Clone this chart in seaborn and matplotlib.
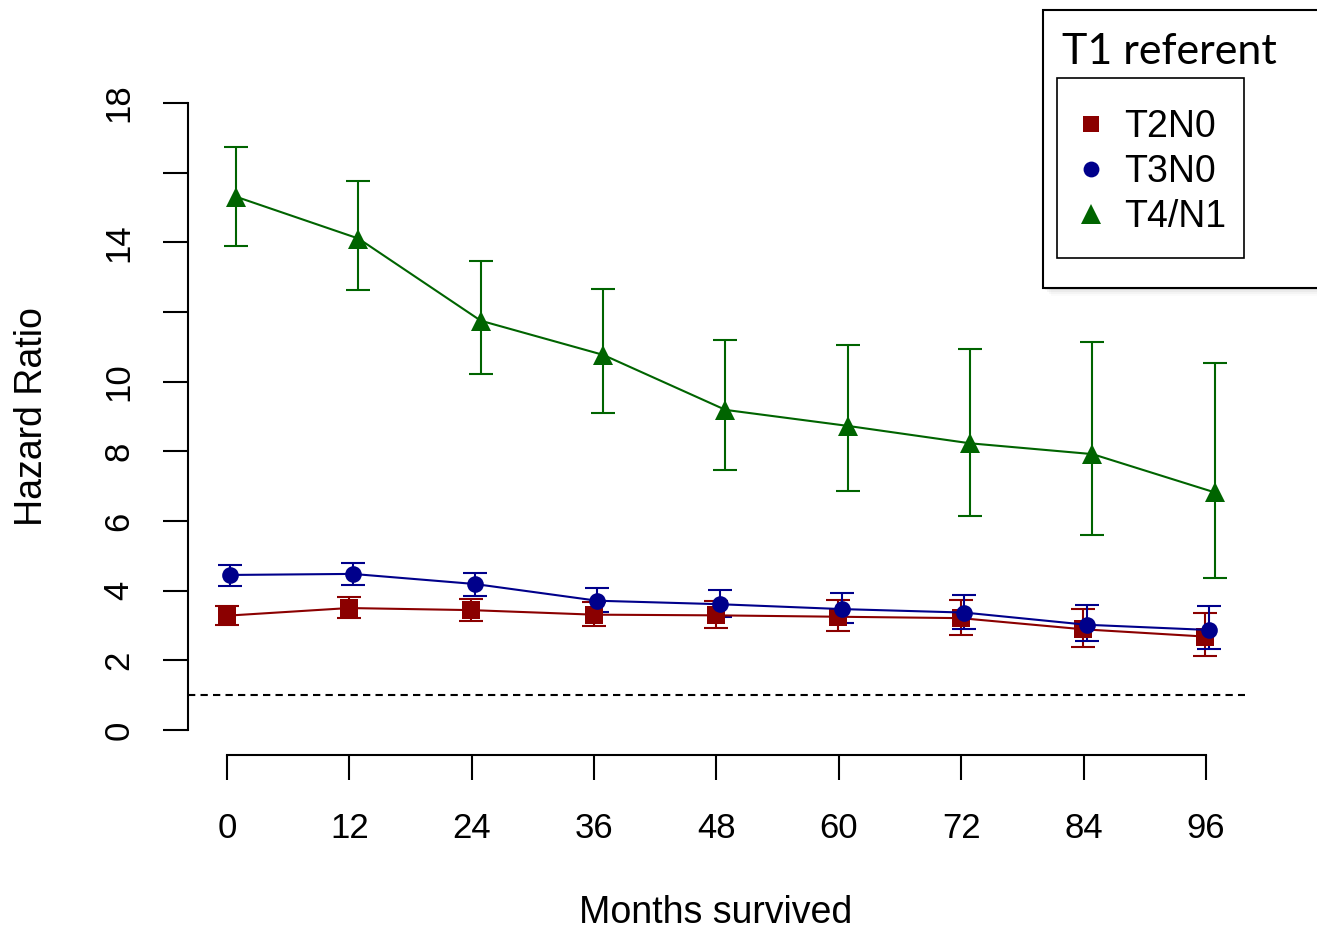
import numpy as np
import pandas as pd
import matplotlib
matplotlib.use("Agg")
import matplotlib.pyplot as plt
import seaborn as sns
from matplotlib.lines import Line2D
from matplotlib.patches import Rectangle

# ---------------- data ----------------
months = [0, 12, 24, 36, 48, 60, 72, 84, 96]
groups = ["T2N0", "T3N0", "T4/N1"]

t2n0_hr = [3.28, 3.50, 3.44, 3.31, 3.29, 3.25, 3.21, 2.89, 2.68]
t2n0_lo = [3.01, 3.22, 3.13, 2.98, 2.93, 2.84, 2.74, 2.38, 2.11]
t2n0_hi = [3.56, 3.83, 3.77, 3.68, 3.71, 3.72, 3.73, 3.47, 3.36]

t3n0_hr = [4.45, 4.48, 4.19, 3.71, 3.61, 3.47, 3.37, 3.02, 2.87]
t3n0_lo = [4.14, 4.16, 3.85, 3.39, 3.25, 3.08, 2.91, 2.56, 2.33]
t3n0_hi = [4.74, 4.80, 4.52, 4.07, 4.01, 3.92, 3.87, 3.60, 3.57]

t4n1_hr = [15.31, 14.11, 11.75, 10.77, 9.19, 8.73, 8.23, 7.92, 6.82]
t4n1_lo = [13.91, 12.63, 10.21, 9.11, 7.46, 6.85, 6.14, 5.61, 4.37]
t4n1_hi = [16.73, 15.76, 13.46, 12.67, 11.19, 11.05, 10.95, 11.14, 10.53]

y_ticks = [0, 2, 4, 6, 8, 10, 12, 14, 16, 18]
y_ticklabels = ["0", "2", "4", "6", "8", "10", "", "14", "", "18"]
referent_value = 1

# ---------------- styles ----------------
colors = {"T2N0": "#8B0000", "T3N0": "#00008B", "T4/N1": "#006400"}
markers = {"T2N0": "s", "T3N0": "o", "T4/N1": "^"}
msizes = {"T2N0": 12.5, "T3N0": 12.0, "T4/N1": 14.5}
dodge = {"T2N0": -0.05, "T3N0": 0.3, "T4/N1": 0.88}

series = {
    "T2N0": (t2n0_hr, t2n0_lo, t2n0_hi),
    "T3N0": (t3n0_hr, t3n0_lo, t3n0_hi),
    "T4/N1": (t4n1_hr, t4n1_lo, t4n1_hi),
}

rows = []
for g in groups:
    hr, lo, hi = series[g]
    for m, h, l, u in zip(months, hr, lo, hi):
        rows.append({"month": m, "x": m + dodge[g], "hr": h, "lo": l, "hi": u, "group": g})
df = pd.DataFrame(rows)

sns.set_style("ticks")
plt.rcParams["font.family"] = ["Liberation Sans", "DejaVu Sans"]
plt.rcParams["text.color"] = "black"

W, H = 1317, 931
fig = plt.figure(figsize=(W / 100, H / 100), dpi=100)
L, R, T, B = 188, 1245, 78, 755
ax = fig.add_axes([L / W, 1 - B / H, (R - L) / W, (B - T) / H])

# reference line
ax.axhline(referent_value, color="black", lw=1.5, ls=(0, (3.5, 2.5)), zorder=1)

for g in groups:
    sub = df[df.group == g]
    ax.errorbar(sub["x"], sub["hr"],
                yerr=[sub["hr"] - sub["lo"], sub["hi"] - sub["hr"]],
                fmt="none", ecolor=colors[g], elinewidth=1.5, capsize=8.5,
                capthick=1.5, zorder=2)
    sns.lineplot(data=sub, x="x", y="hr", ax=ax, color=colors[g],
                 marker=markers[g], markersize=msizes[g], markeredgewidth=0,
                 linewidth=1.5, legend=False, zorder=3, sort=False)

ax.set_xlim(-3.84, 99.84)
ax.set_ylim(-0.72, 18.72)
ax.set_xticks(months)
ax.set_xticklabels([str(m) for m in months])
ax.set_yticks(y_ticks)
ax.set_yticklabels(y_ticklabels)

for s in ["top", "right"]:
    ax.spines[s].set_visible(False)
ax.spines["left"].set_bounds(0, 18)
ax.spines["bottom"].set_bounds(0, 96)
for s in ["left", "bottom"]:
    ax.spines[s].set_linewidth(1.5)
    ax.spines[s].set_color("black")

ax.tick_params(axis="both", length=18, width=1.5, color="black",
               labelsize=25, labelcolor="black")
ax.tick_params(axis="x", pad=23)
ax.tick_params(axis="y", pad=20, labelrotation=90)
for lab in ax.get_yticklabels():
    lab.set_va("center")

ax.set_xlabel("Months survived", fontsize=27, color="black")
ax.set_ylabel("Hazard Ratio", fontsize=27, color="black")
ax.xaxis.set_label_coords((716 - L) / (R - L), (B - 913) / (B - T))
ax.xaxis.label.set_va("center")
ax.yaxis.set_label_coords((32 - L) / (R - L), (B - 417) / (B - T))
ax.yaxis.label.set_va("center")

# ---------------- legend ----------------
def px(x, y):
    return (x / W, 1 - y / H)

# outer box with soft shadow
for i, a in enumerate([0.12, 0.08, 0.05, 0.03]):
    off = 2 + 2 * i
    fig.patches.append(Rectangle(px(1043 + off, 288 + off), (1340 - 1043) / W,
                                 (288 - 10) / H, transform=fig.transFigure,
                                 facecolor="gray", edgecolor="none", alpha=a, zorder=0))
fig.patches.append(Rectangle(px(1043, 288), (1340 - 1043) / W, (288 - 10) / H,
                             transform=fig.transFigure, facecolor="white",
                             edgecolor="black", lw=1.5, zorder=1))
fig.text(*px(1062, 64), "T1 referent", fontsize=31, family=["Lato", "DejaVu Sans"],
         ha="left", va="baseline", color="black", zorder=3)
# inner box
fig.patches.append(Rectangle(px(1057, 258), (1244 - 1057) / W, (258 - 78) / H,
                             transform=fig.transFigure, facecolor="white",
                             edgecolor="black", lw=1.2, zorder=2))

handles = [Line2D([], [], ls="none", marker=markers[g], color=colors[g],
                  markersize=msizes[g] * 0.95, markeredgewidth=0) for g in groups]
leg = fig.legend(handles, groups, loc="center left",
                 bbox_to_anchor=px(1078, 172), bbox_transform=fig.transFigure,
                 frameon=False, fontsize=27, borderpad=0, borderaxespad=0,
                 handlelength=0.71, handletextpad=0.52, labelspacing=0.25)
for t in leg.get_texts():
    t.set_color("black")
leg.set_zorder(4)

fig.savefig("out.png", dpi=100)
